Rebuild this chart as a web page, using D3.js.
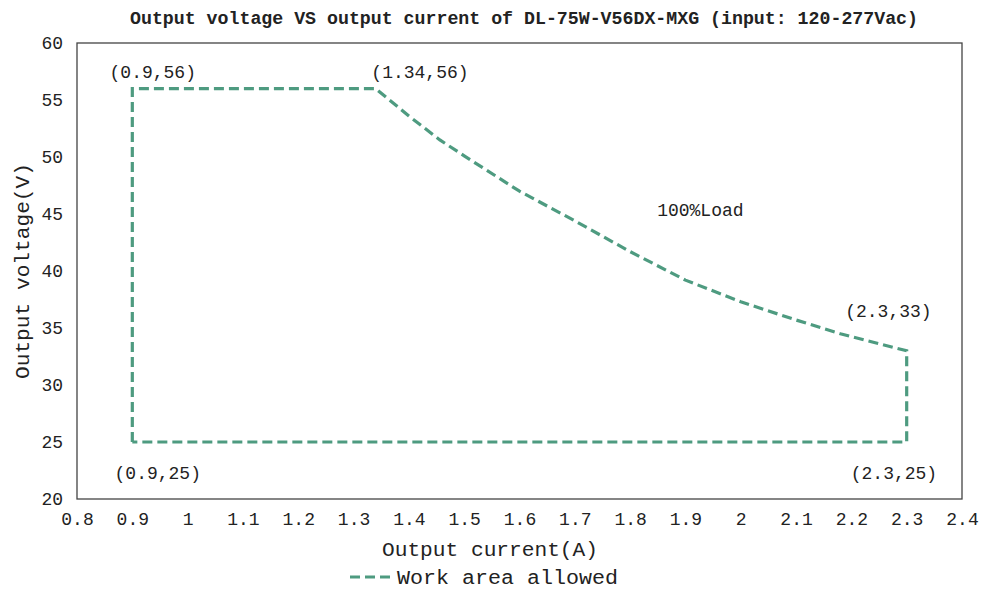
<!DOCTYPE html>
<html><head><meta charset="utf-8">
<script src="https://cdn.jsdelivr.net/npm/d3@7"></script>
<style>body{margin:0;background:#fff}svg{display:block}text{font-family:"Liberation Mono","DejaVu Sans Mono",monospace;fill:#222}</style>
</head><body>
<script>
const titleText = "Output voltage VS output current of DL-75W-V56DX-MXG (input: 120-277Vac)";
const xTicks = [0.8,0.9,1,1.1,1.2,1.3,1.4,1.5,1.6,1.7,1.8,1.9,2,2.1,2.2,2.3,2.4];
const yTicks = [20,25,30,35,40,45,50,55,60];
const areaCurrent = [0.9,0.9,1.34,1.4,1.456,1.5,1.6,1.7,1.8,1.9,2.0,2.1,2.18,2.3,2.3,0.9];
const areaVoltage = [25,56,56,53.6,51.5,50.1,47.0,44.4,41.7,39.2,37.3,35.7,34.5,33,25,25];
const annoText = ["(0.9,56)","(1.34,56)","(2.3,33)","(0.9,25)","(2.3,25)","100%Load"];
const annoX = [0.937,1.420,2.267,0.946,2.277,1.927];
const annoY = [57.46,57.46,36.5,22.3,22.3,45.35];
const seriesName = "Work area allowed";

const W=983,H=595, m={l:77,r:21,t:43,b:96};
const svg=d3.select("body").append("svg").attr("width",W).attr("height",H);
const x=d3.scaleLinear().domain([0.8,2.4]).range([m.l,W-m.r]);
const y=d3.scaleLinear().domain([20,60]).range([H-m.b,m.t]);
const color="#4e9b80";

svg.append("text").attr("x",524).attr("y",24).attr("text-anchor","middle")
  .attr("font-size",18).attr("font-weight","bold").attr("textLength",788).attr("lengthAdjust","spacingAndGlyphs")
  .text(titleText);

svg.append("rect").attr("x",x(0.8)).attr("y",y(60)).attr("width",x(2.4)-x(0.8)).attr("height",y(20)-y(60))
  .attr("fill","none").attr("stroke","#444").attr("stroke-width",1.3);

const xa=svg.append("g").attr("transform",`translate(0,${y(20)})`)
  .call(d3.axisBottom(x).tickValues(xTicks).tickSize(0).tickPadding(13).tickFormat(d=>String(d)));
xa.select(".domain").remove();
xa.selectAll("text").attr("font-size",18).style("font-family",'"Liberation Mono",monospace').attr("fill","#222");

const ya=svg.append("g").attr("transform",`translate(${x(0.8)},0)`)
  .call(d3.axisLeft(y).tickValues(yTicks).tickSize(0).tickPadding(14).tickFormat(d=>String(d)));
ya.select(".domain").remove();
ya.selectAll("text").attr("font-size",18).style("font-family",'"Liberation Mono",monospace').attr("fill","#222");

svg.append("text").attr("x",490).attr("y",556).attr("text-anchor","middle").attr("font-size",20)
  .attr("textLength",216).attr("lengthAdjust","spacingAndGlyphs").text("Output current(A)");
svg.append("text").attr("transform",`translate(29,271) rotate(-90)`).attr("text-anchor","middle").attr("font-size",20)
  .attr("textLength",216).attr("lengthAdjust","spacingAndGlyphs").text("Output voltage(V)");

const pts=areaCurrent.map((c,i)=>[c,areaVoltage[i]]);
svg.append("path").datum(pts)
  .attr("d",d3.line().x(d=>x(d[0])).y(d=>y(d[1])).curve(d3.curveLinear))
  .attr("fill","none").attr("stroke",color).attr("stroke-width",3.2).attr("stroke-dasharray","10,5");

annoText.forEach((t,i)=>{
  svg.append("text").attr("x",x(annoX[i])).attr("y",y(annoY[i])).attr("dy","0.35em")
    .attr("text-anchor","middle").attr("font-size",18).text(t);
});

svg.append("line").attr("x1",350).attr("x2",394).attr("y1",577).attr("y2",577)
  .attr("stroke",color).attr("stroke-width",3.2).attr("stroke-dasharray","10,5");
svg.append("text").attr("x",397).attr("y",577).attr("dy","0.35em").attr("font-size",20)
  .attr("textLength",221).attr("lengthAdjust","spacingAndGlyphs").text(seriesName);
</script>
</body></html>
